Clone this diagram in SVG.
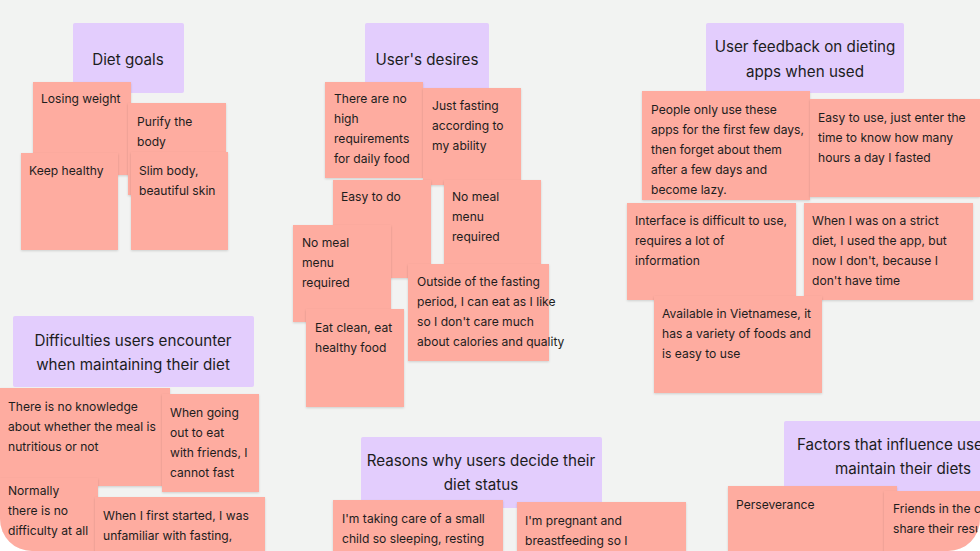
<svg xmlns="http://www.w3.org/2000/svg" width="980" height="551" viewBox="0 0 980 551">
<defs>
<clipPath id="page"><rect x="0" y="-30" width="980" height="581" rx="32"/></clipPath>
<filter id="sh" x="-10%" y="-10%" width="130%" height="130%"><feDropShadow dx="0" dy="1" stdDeviation="1.2" flood-color="#000" flood-opacity="0.15"/></filter>
</defs>
<style>
.h{fill:#e3cdfd}
.s{fill:#feaca0;filter:url(#sh)}
text{font-family:Inter,"Noto Sans",sans-serif;fill:#1d1d1d}
.ht{font-size:15.2px;text-anchor:middle}
.st{font-size:12.1px}
</style>
<rect width="980" height="551" fill="#ffffff"/>
<g clip-path="url(#page)">
<rect width="980" height="551" fill="#f2f3f2"/>
<g id="diet-goals">
<rect class="h" x="73" y="23" width="111" height="70" rx="2"/>
<text class="ht" x="128" y="65">Diet goals</text>
<rect class="s" x="33" y="82" width="98" height="93"/><text class="st" x="41" y="103">Losing weight</text>
<rect class="s" x="128" y="103" width="98" height="92"/><text class="st" x="137" y="126">Purify the<tspan x="137" dy="20">body</tspan></text>
<rect class="s" x="21" y="153" width="97" height="97"/><text class="st" x="29" y="175">Keep healthy</text>
<rect class="s" x="131" y="152" width="97" height="98"/><text class="st" x="139" y="175">Slim body,<tspan x="139" dy="20">beautiful skin</tspan></text>
</g>
<g id="users-desires">
<rect class="h" x="365" y="23" width="124" height="70" rx="2"/>
<text class="ht" x="427" y="65">User's desires</text>
<rect class="s" x="325" y="82" width="98" height="96"/><text class="st" x="334" y="103">There are no<tspan x="334" dy="20">high</tspan><tspan x="334" dy="20">requirements</tspan><tspan x="334" dy="20">for daily food</tspan></text>
<rect class="s" x="423" y="88" width="98" height="97"/><text class="st" x="432" y="110">Just fasting<tspan x="432" dy="20">according to</tspan><tspan x="432" dy="20">my ability</tspan></text>
<rect class="s" x="333" y="180" width="98" height="98"/><text class="st" x="341" y="201">Easy to do</text>
<rect class="s" x="444" y="180" width="97" height="98"/><text class="st" x="452" y="201">No meal<tspan x="452" dy="20">menu</tspan><tspan x="452" dy="20">required</tspan></text>
<rect class="s" x="293" y="225" width="98" height="97"/><text class="st" x="302" y="247">No meal<tspan x="302" dy="20">menu</tspan><tspan x="302" dy="20">required</tspan></text>
<rect class="s" x="408" y="264" width="141" height="97"/><text class="st" x="417" y="286">Outside of the fasting<tspan x="417" dy="20">period, I can eat as I like</tspan><tspan x="417" dy="20">so I don't care much</tspan><tspan x="417" dy="20">about calories and quality</tspan></text>
<rect class="s" x="306" y="309" width="98" height="98"/><text class="st" x="315" y="332">Eat clean, eat<tspan x="315" dy="20">healthy food</tspan></text>
</g>
<g id="user-feedback">
<rect class="h" x="706" y="23" width="198" height="70" rx="2"/>
<text class="ht" x="805" y="52">User feedback on dieting<tspan x="805" dy="25">apps when used</tspan></text>
<rect class="s" x="642" y="91" width="168" height="109"/><text class="st" x="651" y="114">People only use these<tspan x="651" dy="20">apps for the first few days,</tspan><tspan x="651" dy="20">then forget about them</tspan><tspan x="651" dy="20">after a few days and</tspan><tspan x="651" dy="20">become lazy.</tspan></text>
<rect class="s" x="810" y="99" width="170" height="98"/><text class="st" x="818" y="122">Easy to use, just enter the<tspan x="818" dy="20">time to know how many</tspan><tspan x="818" dy="20">hours a day I fasted</tspan></text>
<rect class="s" x="627" y="203" width="169" height="97"/><text class="st" x="635" y="225">Interface is difficult to use,<tspan x="635" dy="20">requires a lot of</tspan><tspan x="635" dy="20">information</tspan></text>
<rect class="s" x="804" y="203" width="169" height="97"/><text class="st" x="812" y="225">When I was on a strict<tspan x="812" dy="20">diet, I used the app, but</tspan><tspan x="812" dy="20">now I don't, because I</tspan><tspan x="812" dy="20">don't have time</tspan></text>
<rect class="s" x="654" y="296" width="168" height="97"/><text class="st" x="662" y="318">Available in Vietnamese, it<tspan x="662" dy="20">has a variety of foods and</tspan><tspan x="662" dy="20">is easy to use</tspan></text>
</g>
<g id="difficulties">
<rect class="h" x="13" y="316" width="241" height="71" rx="2"/>
<text class="ht" x="133" y="346">Difficulties users encounter<tspan x="133" dy="24">when maintaining their diet</tspan></text>
<rect class="s" x="0" y="388" width="170" height="98"/><text class="st" x="8" y="411">There is no knowledge<tspan x="8" dy="20">about whether the meal is</tspan><tspan x="8" dy="20">nutritious or not</tspan></text>
<rect class="s" x="162" y="394" width="97" height="98"/><text class="st" x="170" y="417">When going<tspan x="170" dy="20">out to eat</tspan><tspan x="170" dy="20">with friends, I</tspan><tspan x="170" dy="20">cannot fast</tspan></text>
<rect class="s" x="0" y="478" width="98" height="100"/><text class="st" x="8" y="495">Normally<tspan x="8" dy="20">there is no</tspan><tspan x="8" dy="20">difficulty at all</tspan></text>
<rect class="s" x="95" y="497" width="170" height="80"/><text class="st" x="103" y="520">When I first started, I was<tspan x="103" dy="20">unfamiliar with fasting,</tspan></text>
</g>
<g id="reasons">
<rect class="h" x="361" y="437" width="241" height="71" rx="2"/>
<text class="ht" x="481" y="466">Reasons why users decide their<tspan x="481" dy="24">diet status</tspan></text>
<rect class="s" x="333" y="500" width="170" height="70"/><text class="st" x="342" y="523">I'm taking care of a small<tspan x="342" dy="20">child so sleeping, resting</tspan></text>
<rect class="s" x="517" y="502" width="169" height="70"/><text class="st" x="525" y="525">I'm pregnant and<tspan x="525" dy="20">breastfeeding so I</tspan></text>
</g>
<g id="factors">
<rect class="h" x="784" y="421" width="220" height="71" rx="2"/>
<text class="ht" style="text-anchor:start" x="797" y="450">Factors that influence users to<tspan x="835" dy="24">maintain their diets</tspan></text>
<rect class="s" x="728" y="486" width="169" height="80"/><text class="st" x="736" y="509">Perseverance</text>
<rect class="s" x="884" y="491" width="120" height="80"/><text class="st" x="893" y="513">Friends in the community<tspan x="893" dy="20">share their results</tspan></text>
</g>
<g id="connectors"/>
</g>
</svg>
